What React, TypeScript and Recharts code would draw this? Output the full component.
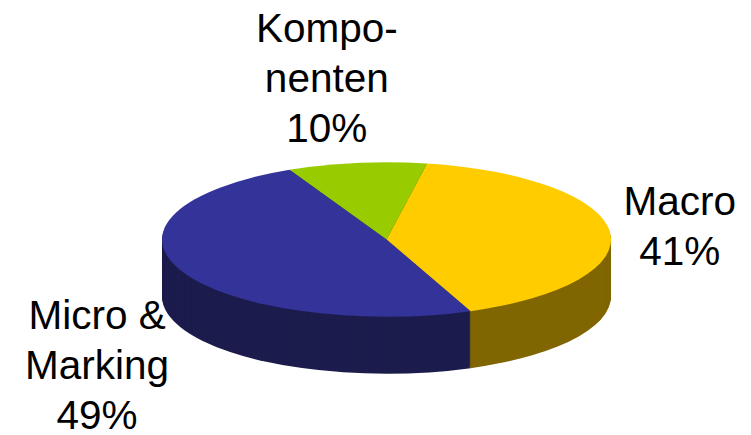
import React from 'react';
import { PieChart, Pie, Cell } from 'recharts';

const categories = ['Macro', 'Komponenten', 'Micro & Marking'];
const values = [41, 10, 49];
const labelLines = [['Macro'], ['Kompo-', 'nenten'], ['Micro &', 'Marking']];

const TOP_COLORS = ['#FFCC00', '#99CC00', '#333399'];
const SIDE_COLORS = ['#806600', '#4D6600', '#1C1C4D'];

const W = 751;
const H = 435;
const CX = 386.5;
const CY = 239.5;
const R = 224.5;
const RY = 77.3;
const SCALE = RY / R;
const DEPTH = 57;
const START = -68;
const LABEL_OFFSETS = [
  { dx: 70, dy: -17 },
  { dx: -30, dy: -121 },
  { dx: -84, dy: 58 },
];
const FONT_SIZE = 40.5;
const LINE_H = 50;

const data = categories.map((name, i) => ({ name, value: values[i] }));
const depths = Array.from({ length: DEPTH + 1 }, (_, i) => DEPTH - i);

const css = depths
  .map(
    (d) =>
      `.pie-layer-${d}{transform:scale(1,${SCALE});transform-origin:${CX}px ${CY + d}px;}\n.pie-layer-${d} .pie-layer-${d}{transform:none;}`
  )
  .join('\n');

const renderLabel = (p: any) => {
  const i = p.index;
  const rad = (Math.PI / 180) * p.midAngle;
  const ex = p.cx + p.outerRadius * Math.cos(rad);
  const ey = p.cy - p.outerRadius * SCALE * Math.sin(rad);
  const x = ex + LABEL_OFFSETS[i].dx;
  const y0 = ey + LABEL_OFFSETS[i].dy;
  const lines = [...labelLines[i], `${values[i]}%`];
  return (
    <text
      key={`lbl-${i}`}
      textAnchor="middle"
      fontFamily="'Liberation Sans', Arial, sans-serif"
      fontSize={FONT_SIZE}
      fill="#000"
    >
      {lines.map((l, k) => (
        <tspan key={k} x={x} y={y0 + k * LINE_H}>
          {l}
        </tspan>
      ))}
    </text>
  );
};

export default function App() {
  return (
    <div style={{ position: 'absolute', left: 0, top: 0, width: W, height: H, background: '#fff' }}>
      <style>{css}</style>
      <PieChart width={W} height={H} margin={{ top: 0, right: 0, bottom: 0, left: 0 }}>
        {depths.map((d) => (
          <Pie
            key={`p-${d}`}
            className={`pie-layer-${d}`}
            data={data}
            dataKey="value"
            nameKey="name"
            cx={CX}
            cy={CY + d}
            outerRadius={R}
            innerRadius={0}
            startAngle={START}
            endAngle={START + 360}
            stroke="none"
            isAnimationActive={false}
            labelLine={false}
          >
            {data.map((_, i) => (
              <Cell key={i} fill={d === 0 ? TOP_COLORS[i] : SIDE_COLORS[i]} stroke="none" />
            ))}
          </Pie>
        ))}
        <Pie
          key="labels"
          data={data}
          dataKey="value"
          nameKey="name"
          cx={CX}
          cy={CY}
          outerRadius={R}
          innerRadius={0}
          startAngle={START}
          endAngle={START + 360}
          fill="none"
          stroke="none"
          isAnimationActive={false}
          labelLine={false}
          label={renderLabel}
        >
          {data.map((_, i) => (
            <Cell key={i} fill="none" stroke="none" />
          ))}
        </Pie>
      </PieChart>
    </div>
  );
}
